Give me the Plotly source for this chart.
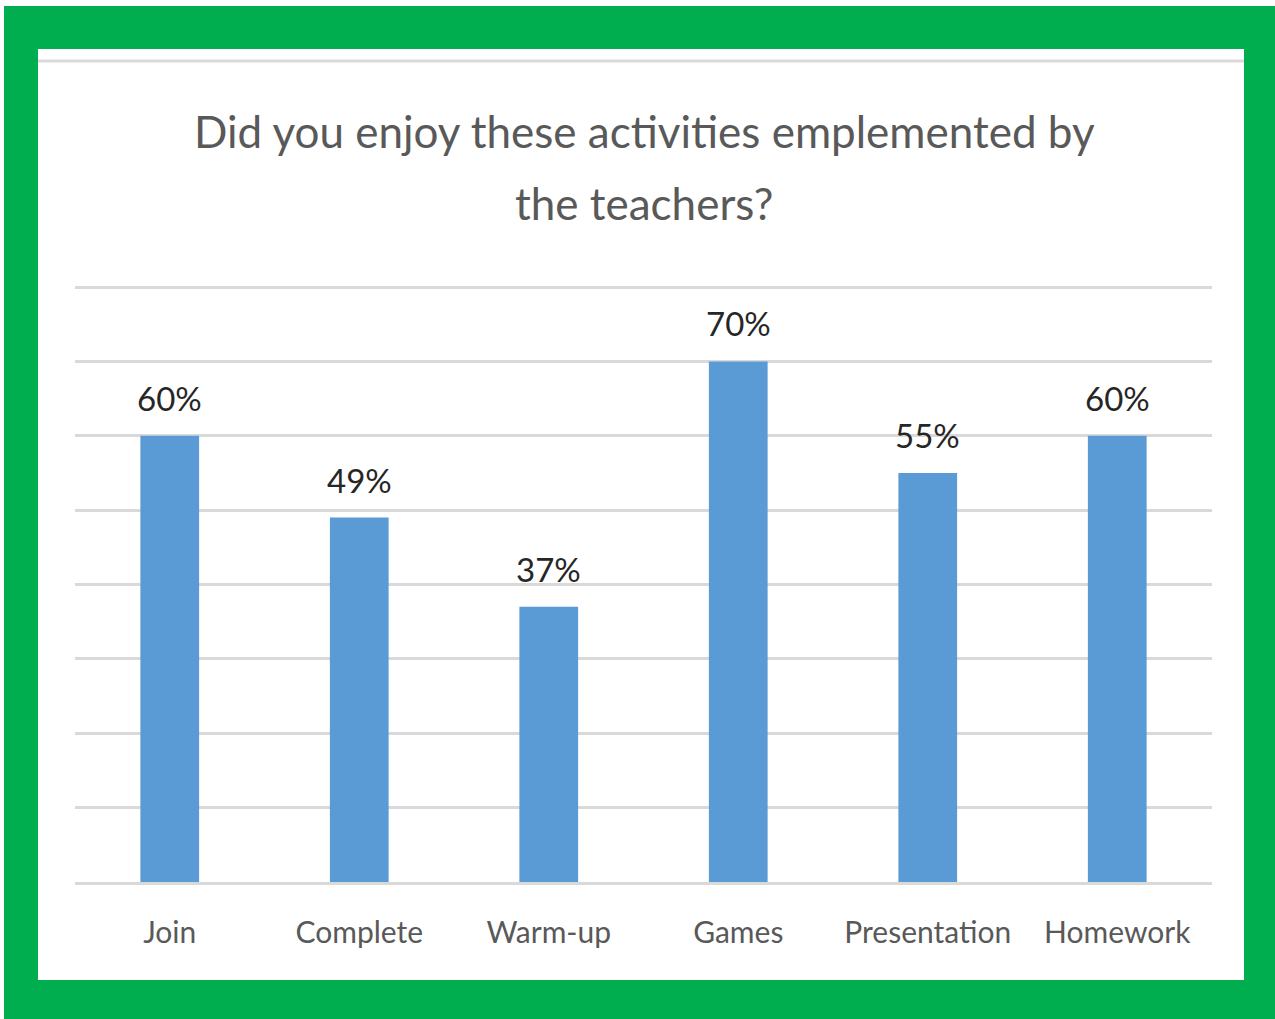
import plotly.graph_objects as go

# Survey results
activities = ["Join", "Complete", "Warm-up", "Games", "Presentation", "Homework"]
enjoyed_pct = [60, 49, 37, 70, 55, 60]
value_labels = ["60%", "49%", "37%", "70%", "55%", "60%"]
title_lines = ["Did you enjoy these activities emplemented by", "the teachers?"]

W, H = 1275, 1019
L, R, T, B = 75, 1212, 283, 882  # plot area in pixels
Y_TOP = 80 * (B - T) / (882 - 287)  # keeps the 80% gridline just inside the plot


def px_x(x):
    return (x - L) / (R - L)


def px_y(y):
    return (B - y) / (B - T)


FONT = "Lato, Open Sans, sans-serif"

fig = go.Figure()
fig.add_trace(go.Bar(
    x=activities,
    y=enjoyed_pct,
    marker=dict(color="#5B9BD5", line=dict(width=0)),
    width=0.31,
    hoverinfo="skip",
))

for cat, val, lab in zip(activities, enjoyed_pct, value_labels):
    fig.add_annotation(
        x=cat, y=val, text=lab, showarrow=False,
        yanchor="bottom", yshift=16,
        font=dict(family=FONT, size=33, color="#262626"),
    )

# two-line chart title
for line, ypix in zip(title_lines, [131, 203]):
    fig.add_annotation(
        xref="paper", yref="paper", x=px_x(644), y=px_y(ypix),
        xanchor="center", yanchor="middle", text=line, showarrow=False,
        font=dict(family=FONT, size=44, color="#595959"),
    )

shapes = [
    # green frame
    dict(type="rect", xref="paper", yref="paper", layer="below",
         x0=px_x(4), x1=px_x(W + 5), y0=px_y(H + 5), y1=px_y(6),
         fillcolor="#00AE50", line=dict(width=0)),
    # white chart card
    dict(type="rect", xref="paper", yref="paper", layer="below",
         x0=px_x(38), x1=px_x(1244), y0=px_y(980), y1=px_y(49),
         fillcolor="#FFFFFF", line=dict(width=0)),
    # thin rule under the card top
    dict(type="line", xref="paper", yref="paper", layer="below",
         x0=px_x(38), x1=px_x(1244), y0=px_y(61), y1=px_y(61),
         line=dict(color="#D9D9D9", width=3)),
]

fig.update_layout(
    width=W, height=H,
    margin=dict(l=L, r=W - R, t=T, b=H - B, pad=0),
    paper_bgcolor="#FFFFFF",
    plot_bgcolor="rgba(0,0,0,0)",
    showlegend=False,
    shapes=shapes,
    xaxis=dict(
        showgrid=False, showline=True, linecolor="#D9D9D9", linewidth=3,
        ticks="", tickfont=dict(family=FONT, size=30, color="#595959"),
        ticklabelstandoff=22,
    ),
    yaxis=dict(
        range=[0, Y_TOP], tickvals=[10, 20, 30, 40, 50, 60, 70, 80],
        showticklabels=False,
        showgrid=True, gridcolor="#D9D9D9", gridwidth=3,
        zeroline=False, showline=False,
    ),
)

fig.write_html("out.html")
